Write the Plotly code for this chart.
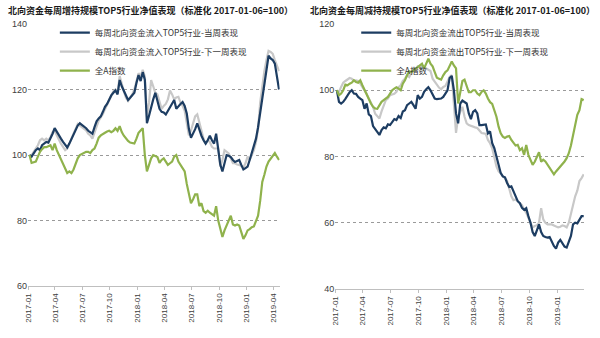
import pandas as pd
import plotly.graph_objects as go
from plotly.subplots import make_subplots

# ---------------- data ----------------
left_title = "北向资金每周增持规模TOP5行业净值表现（标准化 2017-01-06=100）"
right_title = "北向资金每周减持规模TOP5行业净值表现（标准化 2017-01-06=100）"

left_names = ["每周北向资金流入TOP5行业-当周表现", "每周北向资金流入TOP5行业-下一周表现", "全A指数"]
right_names = ["每周北向资金流出TOP5行业-当周表现", "每周北向资金流出TOP5行业-下一周表现", "全A指数"]

left_current = [
    100, 99.5, 100.5, 101.5, 102, 101.5, 103, 103.5, 104, 103.8,
    105, 106.5, 108.2, 107, 105.9, 105, 104, 103, 102.3, 103.5,
    105, 106.5, 107.9, 109, 109.7, 109.2, 108.8, 108.2, 107.4, 107,
    106.5, 108.5, 110.3, 111.2, 111.8, 113.2, 114.7, 115.6, 117, 118.2,
    119, 119.7, 118.5, 122.9, 121, 119.7, 118, 116.8, 117.5, 118.2,
    119, 122, 124.4, 122.6, 125.3, 123, 109.7, 112, 114.7, 117,
    119, 116, 114.1, 113.2, 113, 112.4, 113.5, 114.7, 116, 116.8,
    114.1, 115, 115.6, 116.2, 115, 112.7, 108, 105.3, 106.5, 107.9,
    109.7, 107.5, 105.9, 104.5, 103.5, 104.5, 105.9, 104.5, 103.5, 106.5,
    102, 97, 95, 97.5, 100, 99.8, 99.4, 98.5, 97.9, 98.2,
    98.5, 97, 95.6, 96, 96.5, 98.5, 100.6, 103, 105, 108.5,
    113, 118, 122.9, 126.5, 130.3, 129.5, 129, 127.9, 124, 120,
]
left_next = [
    100, 100, 101, 102, 103, 104.5, 105, 104.5, 105, 104.5,
    105.5, 107, 107.5, 106, 104.5, 103.5, 102.5, 101.5, 102, 103.5,
    105, 106.5, 108, 109.5, 109, 108.5, 108, 107.5, 106.5, 106,
    105, 107, 109, 110.5, 111.5, 112.5, 114, 115.5, 117, 118.5,
    119.5, 120, 119, 124.1, 121.5, 119.5, 117.5, 116.5, 117.5, 118.5,
    120, 123, 125, 124, 126, 124, 111.8, 116, 122.9, 121,
    119, 118.5, 116.5, 114.1, 115, 115.6, 117, 119.7, 118.5, 117,
    117.6, 117.8, 116, 115, 113.5, 110, 106, 107.5, 110, 111.8,
    112.4, 110, 107.9, 105, 103.5, 104.5, 104, 102.5, 102, 102,
    102, 96.5, 98.5, 101.5, 101, 100.5, 99, 97.5, 97.5, 97.1,
    97, 96.5, 96.2, 97.5, 99.5, 98.5, 100, 101.5, 104, 108,
    116, 121, 125.6, 129, 131.8, 131.5, 130.9, 129, 127.5, 125.6,
]
left_index = [
    100, 97.6, 97.8, 98, 99.5, 101, 101.8, 102.4, 102.4, 102.8,
    103, 101.5, 103.5, 101.5, 100, 98.5, 97, 95.6, 94.5, 95,
    94.5, 95.6, 97.6, 99, 100, 100.3, 100.6, 101, 101, 100.6,
    101.5, 102, 103.5, 105.3, 106, 106.5, 106.8, 107.2, 107.4, 107,
    107.4, 108.2, 107.4, 108.8, 107, 105.9, 105, 104.3, 103.8, 103.6,
    103.5, 105, 106.8, 107.5, 108.2, 100, 95, 97, 99, 100,
    99.8, 99.4, 97.6, 98.5, 99, 98, 97, 97.5, 98, 99.5,
    100, 98, 97, 96, 95, 91.2, 88.2, 85.3, 86.5, 88,
    88, 84.4, 85.3, 82.9, 82.4, 83, 82.4, 81.8, 81.5, 84.4,
    80, 77.5, 75, 77, 78.5, 80, 81.5, 78.8, 78.5, 78.8,
    78.5, 76.5, 74.4, 75.5, 77, 77.4, 78, 78.2, 80, 81.5,
    86, 91.8, 94, 96.5, 98, 99, 100, 100.6, 99.5, 98.5,
]

right_current = [
    100, 96.5, 96, 96.5, 97.4, 98.5, 99.4, 100, 99, 98.9,
    98, 97.5, 97, 94.4, 96, 92.7, 92.2, 89.2, 88.3, 87.5,
    86.5, 88, 88.8, 88.5, 89.7, 89.5, 90.5, 91.3, 91, 92.2,
    91.6, 93.6, 94, 95.5, 96, 96.5, 95.5, 94.4, 98.5, 97.5,
    98, 99.5, 100.3, 100.9, 100, 98.5, 97.5, 97.3, 97.3, 97.5,
    98, 99, 100, 103.7, 104.3, 100, 93, 90, 96, 96.9,
    96.5, 96, 93, 91.3, 93.5, 94, 93, 89.5, 89.5, 89.7,
    89.7, 87, 87.6, 84, 82.5, 80, 77.5, 75, 74, 73.7,
    72, 70.8, 71, 69.4, 67.5, 66.5, 65.9, 64.5, 63.9, 64.4,
    62, 60, 57.2, 56, 57.7, 59.5, 57.2, 56, 55.7, 55.5,
    55.7, 54.3, 53, 52.2, 54, 54.8, 53.7, 52.8, 52.5, 54,
    56, 59.5, 60, 59.8, 61, 62, 62,
]
right_next = [
    100, 99.5, 101, 102.3, 102.8, 103.2, 103.7, 103.5, 102.8, 103,
    102.8, 102, 101, 100, 98.9, 97.5, 96, 95, 92.9, 92.2,
    91.5, 93.6, 95.5, 97, 97.5, 98.5, 98.7, 98.9, 99.5, 100.9,
    101.5, 102.8, 103.5, 104.5, 104, 105.5, 106.6, 106, 107.2, 107,
    107.5, 107, 106.6, 106.2, 105.8, 103.5, 102.5, 101.5, 100.8, 100.3,
    101, 101.3, 102.5, 104, 104.6, 95, 87.1, 92, 93.5, 95,
    92, 90, 89.5, 89.2, 89, 88.8, 88.6, 88, 87.1, 87,
    86.8, 85, 84, 82.5, 80, 77, 75.5, 75, 74, 73.5,
    72.6, 70, 68, 66.8, 67, 66.5, 66, 65.3, 64, 63,
    61.5, 60, 58.6, 59, 59.2, 60, 64.4, 61, 60, 59.5,
    59.5, 59.5, 59.2, 59, 58.6, 58.8, 59.2, 59, 58.6, 60,
    63, 65.9, 68, 69.7, 72.6, 73.5, 74.6,
]
right_index = [
    100, 98.5, 99, 100, 101.7, 101.5, 102, 102.3, 103, 102.5,
    102.3, 103, 101.5, 100, 98.5, 97, 96, 95, 94.5, 94.4,
    95.5, 96.5, 97, 97.5, 98, 99, 100, 100.5, 100.9, 100.5,
    100, 102, 103, 104.5, 105.7, 105.5, 106, 106.5, 107.2, 107.5,
    108, 106.6, 108, 109.5, 108, 107.2, 105.5, 103.8, 103.5, 103.2,
    104.5, 105.5, 106, 107.5, 108.7, 107.5, 106.6, 96, 100, 102.8,
    103.2, 101.5, 99.4, 99.4, 100, 100, 99, 98.5, 99.5, 100,
    99, 97.5, 96.4, 95.9, 94, 92, 89, 87, 86, 85.6,
    86, 86.2, 85, 84.2, 83.3, 83.5, 81.9, 82.5, 80.5, 83.5,
    80.5, 79, 77.5, 78.4, 80, 81.3, 78.4, 79, 78.5, 77.5,
    76.2, 75.5, 74.6, 75.5, 76.2, 77, 77.5, 78.5, 79.5, 81,
    83.3, 86.5, 90, 92.6, 94, 97.3, 97,
]

start_date = "2017-01-06"
left_dates = pd.date_range(start_date, periods=len(left_current), freq="7D")
right_dates = pd.date_range(start_date, periods=len(right_current), freq="7D")

left_yticks = [60, 80, 100, 120, 140]
right_yticks = [40, 60, 80, 100, 120]

# ---------------- styles ----------------
C_BLUE = "#1d3d62"
C_GRAY = "#c8c8c8"
C_GREEN = "#8fb24c"
FONT = "Liberation Sans, Arial, Noto Sans CJK SC, sans-serif"
CJK = "Noto Sans CJK SC, Liberation Sans, sans-serif"

W, H = 600, 338
ML, MR, MT, MB = 25, 16, 24, 39
PW, PH = W - ML - MR, H - MT - MB


def px_x(x):
    return (x - ML) / PW


def px_y(y):
    return (H - MB - y) / PH


fig = make_subplots(rows=1, cols=2)

for dates, vals, name, color, rank, leg in [
    (left_dates, left_next, left_names[1], C_GRAY, 2, "legend"),
    (left_dates, left_current, left_names[0], C_BLUE, 1, "legend"),
    (left_dates, left_index, left_names[2], C_GREEN, 3, "legend"),
]:
    fig.add_trace(go.Scatter(x=dates, y=vals, mode="lines", name=name,
                             line=dict(color=color, width=2.2), legendrank=rank,
                             legend=leg), row=1, col=1)

for dates, vals, name, color, rank, leg in [
    (right_dates, right_next, right_names[1], C_GRAY, 2, "legend2"),
    (right_dates, right_current, right_names[0], C_BLUE, 1, "legend2"),
    (right_dates, right_index, right_names[2], C_GREEN, 3, "legend2"),
]:
    fig.add_trace(go.Scatter(x=dates, y=vals, mode="lines", name=name,
                             line=dict(color=color, width=2.2), legendrank=rank,
                             legend=leg), row=1, col=2)

xcommon = dict(
    tickformat="%Y-%m", dtick="M3", tick0="2017-01-01", tickangle=-90,
    showgrid=False, showline=True, linecolor="#bfbfbf", linewidth=1,
    ticks="outside", ticklen=3, tickcolor="#bfbfbf",
    tickfont=dict(family=FONT, size=8, color="#404040"), zeroline=False,
)
ycommon = dict(
    showgrid=True, gridcolor="#9a9a9a", griddash="3px,3px", gridwidth=0.8,
    showline=False, zeroline=False, ticks="",
    tickfont=dict(family=FONT, size=9, color="#404040"),
)

fig.update_xaxes(xcommon, row=1, col=1)
fig.update_xaxes(xcommon, row=1, col=2)
fig.update_layout(
    xaxis=dict(domain=[px_x(25), px_x(278)], range=["2017-01-01", "2019-04-21"]),
    xaxis2=dict(domain=[px_x(334), px_x(584)], range=["2017-01-01", "2019-03-30"]),
    yaxis=dict(ycommon, domain=[px_y(296), px_y(24)], range=[60, 140], tickvals=left_yticks),
    yaxis2=dict(ycommon, domain=[px_y(299), px_y(24)], range=[40, 120], tickvals=right_yticks),
)

legend_style = dict(
    font=dict(family=CJK, size=8.5, color="#333333"), bgcolor="rgba(0,0,0,0)",
    borderwidth=0, xanchor="left", yanchor="top", itemwidth=30,
    tracegroupgap=0, orientation="v",
)
fig.update_layout(
    legend=dict(legend_style, x=px_x(52), y=px_y(18)),
    legend2=dict(legend_style, x=px_x(355), y=px_y(18)),
    showlegend=True,
)

fig.add_annotation(text=left_title, xref="paper", yref="paper",
                   x=px_x(3), y=px_y(10), xanchor="left", yanchor="middle",
                   showarrow=False, font=dict(family=CJK, size=9, color="#1a1a1a", weight="bold"))
fig.add_annotation(text=right_title, xref="paper", yref="paper",
                   x=px_x(307), y=px_y(10), xanchor="left", yanchor="middle",
                   showarrow=False, font=dict(family=CJK, size=9, color="#1a1a1a", weight="bold"))

fig.update_layout(
    width=W, height=H, margin=dict(l=ML, r=MR, t=MT, b=MB),
    paper_bgcolor="white", plot_bgcolor="white",
    font=dict(family=FONT),
)

fig.write_html("out.html")
